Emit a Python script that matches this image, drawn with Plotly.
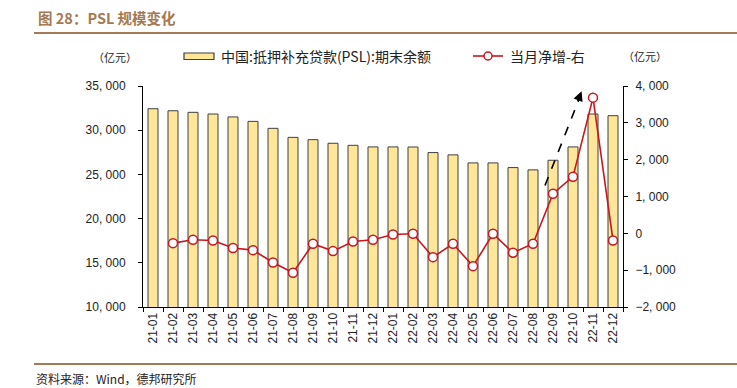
import plotly.graph_objects as go

months = ["21-01","21-02","21-03","21-04","21-05","21-06","21-07","21-08","21-09","21-10","21-11","21-12",
          "22-01","22-02","22-03","22-04","22-05","22-06","22-07","22-08","22-09","22-10","22-11","22-12"]
balance = [32430, 32200, 32020, 31830, 31500, 31000, 30210, 29190, 28930, 28520, 28290, 28110,
           28110, 28100, 27470, 27210, 26300, 26300, 25770, 25510, 26600, 28110, 31830, 31640]
net_change = [None, -266, -175, -193, -400, -456, -790, -1070, -283, -483, -220, -175,
              -30, -11, -646, -283, -891, -11, -527, -283, 1076, 1538, 3684, -193]

left_ticks = [10000, 15000, 20000, 25000, 30000, 35000]
left_ticktext = ["10, 000", "15, 000", "20, 000", "25, 000", "30, 000", "35, 000"]
right_ticks = [-2000, -1000, 0, 1000, 2000, 3000, 4000]
right_ticktext = ["\u22122, 000", "\u22121, 000", "0", "1, 000", "2, 000", "3, 000", "4, 000"]

bar_name = "中国:抵押补充贷款(PSL):期末余额"
line_name = "当月净增-右"

BAR_FILL = "#FFE699"
BAR_EDGE = "#404040"
RED = "#C8161D"
BROWN = "#A47A55"
CJK = "Noto Sans CJK SC"
LAT = "Liberation Sans, Arial, sans-serif"

fig = go.Figure()
fig.add_trace(go.Bar(x=months, y=balance, name=bar_name, width=0.5,
                     marker=dict(color=BAR_FILL, line=dict(color=BAR_EDGE, width=1)),
                     showlegend=False))
fig.add_trace(go.Scatter(x=months, y=net_change, name=line_name, yaxis="y2", mode="lines+markers",
                         line=dict(color=RED, width=1.6),
                         marker=dict(symbol="circle", size=9, color="white", line=dict(color=RED, width=1.5)),
                         showlegend=False, connectgaps=False))

W, H = 737, 388
L, R, T, B = 143, 623, 86, 307

def px(x):
    return (x - L) / (R - L)

def py(y):
    return (B - y) / (B - T)

shapes = []
annotations = []

# title and rules
annotations.append(dict(text="<b>图 28：PSL 规模变化</b>", xref="paper", yref="paper",
                        x=px(36), y=py(17), xanchor="left", yanchor="middle", showarrow=False,
                        font=dict(family=CJK, size=14.5, color=BROWN)))
shapes.append(dict(type="line", xref="paper", yref="paper", x0=px(34), x1=px(737), y0=py(33), y1=py(33),
                   line=dict(color=BROWN, width=2)))
shapes.append(dict(type="line", xref="paper", yref="paper", x0=px(34), x1=px(737), y0=py(364), y1=py(364),
                   line=dict(color=BROWN, width=2)))
annotations.append(dict(text="资料来源：Wind，德邦研究所", xref="paper", yref="paper",
                        x=px(34), y=py(378), xanchor="left", yanchor="middle", showarrow=False,
                        font=dict(family=CJK, size=12, color="#222222")))

# unit labels
annotations.append(dict(text="（亿元）", xref="paper", yref="paper", x=px(115), y=py(57),
                        xanchor="center", yanchor="middle", showarrow=False,
                        font=dict(family=CJK, size=11, color="#222222")))
annotations.append(dict(text="（亿元）", xref="paper", yref="paper", x=px(645), y=py(56),
                        xanchor="center", yanchor="middle", showarrow=False,
                        font=dict(family=CJK, size=11, color="#222222")))

# custom legend
shapes.append(dict(type="rect", xref="paper", yref="paper", x0=px(184), x1=px(214), y0=py(59.5), y1=py(53),
                   fillcolor=BAR_FILL, line=dict(color=BAR_EDGE, width=1.2)))
annotations.append(dict(text=bar_name, xref="paper", yref="paper", x=px(219), y=py(56),
                        xanchor="left", yanchor="middle", showarrow=False,
                        font=dict(family=CJK, size=14, color="#222222")))
shapes.append(dict(type="line", xref="paper", yref="paper", x0=px(473), x1=px(503), y0=py(56), y1=py(56),
                   line=dict(color=RED, width=1.6)))
shapes.append(dict(type="circle", xref="paper", yref="paper", x0=px(484), x1=px(492), y0=py(60), y1=py(52),
                   fillcolor="white", line=dict(color=RED, width=1.5)))
annotations.append(dict(text=line_name, xref="paper", yref="paper", x=px(508), y=py(56),
                        xanchor="left", yanchor="middle", showarrow=False,
                        font=dict(family=CJK, size=14, color="#222222")))

# dashed arrow
shapes.append(dict(type="line", xref="x", yref="y2", x0=19.6, y0=1300, x1=21.38, y1=3750,
                   line=dict(color="black", width=1.6, dash="dash")))
annotations.append(dict(text="", xref="x", yref="y2", x=21.43, y=3855, ax=-4.4, ay=11.2,
                        showarrow=True, arrowhead=2, arrowsize=1.2, arrowwidth=1.6, arrowcolor="black"))

fig.update_layout(
    width=W, height=H,
    margin=dict(l=L, r=W - R, t=T, b=H - B, pad=0),
    paper_bgcolor="white", plot_bgcolor="white",
    font=dict(family=LAT, size=12, color="#222222"),
    bargap=0.5,
    xaxis=dict(type="category", tickangle=-90, showgrid=False, showline=True, linecolor="black",
               linewidth=1, ticks="outside", ticklen=4, tickcolor="black", tickson="boundaries",
               tickfont=dict(family=LAT, size=12, color="#222222"), range=[-0.5, 23.5]),
    yaxis=dict(range=[10000, 35000], tickvals=left_ticks, ticktext=left_ticktext, showgrid=False,
               showline=True, linecolor="black", linewidth=1, ticks="outside", ticklen=4,
               tickcolor="black", zeroline=False, ticklabelstandoff=10,
               tickfont=dict(family=LAT, size=12, color="#222222")),
    yaxis2=dict(range=[-2000, 4000], tickvals=right_ticks, ticktext=right_ticktext, overlaying="y",
                side="right", showgrid=False, showline=True, linecolor="black", linewidth=1,
                ticks="outside", ticklen=4, tickcolor="black", zeroline=False, ticklabelstandoff=5,
                tickfont=dict(family=LAT, size=12, color="#222222")),
    shapes=shapes, annotations=annotations, showlegend=False,
)

fig.write_html("out.html", config={"displayModeBar": False},
               post_script="document.body.style.margin='0px';document.body.style.overflow='hidden';")
